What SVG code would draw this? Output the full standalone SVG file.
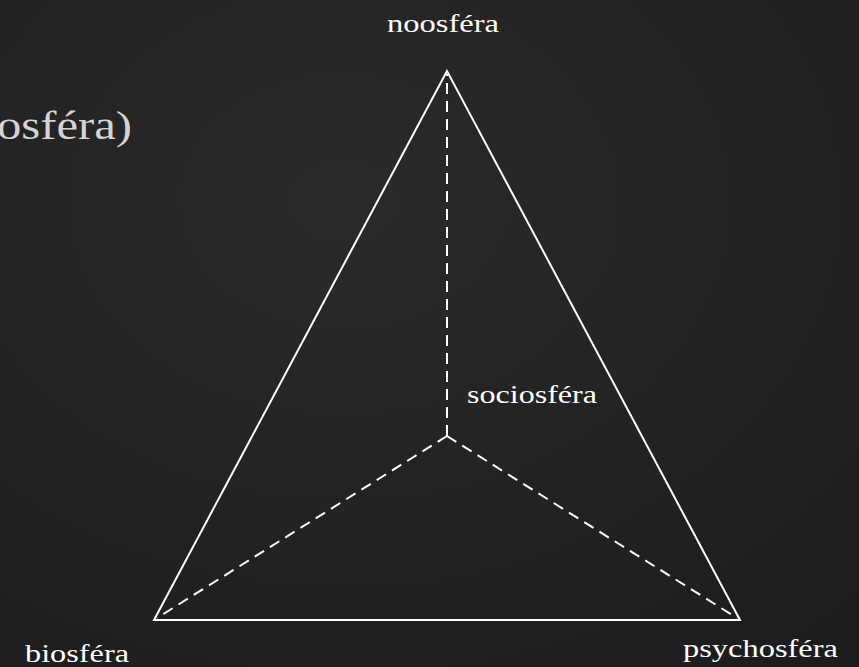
<svg xmlns="http://www.w3.org/2000/svg" width="859" height="667" viewBox="0 0 859 667">
<defs>
<radialGradient id="bg" cx="0.4" cy="0.3" r="0.9">
<stop offset="0" stop-color="#2a2a2a"/>
<stop offset="1" stop-color="#1c1c1c"/>
</radialGradient>
<style>
.lbl{font-family:"Liberation Serif","DejaVu Serif",serif;font-size:26px;fill:#ffffff}
.solid{fill:none;stroke:#ffffff;stroke-width:2}
.dash{fill:none;stroke:#ffffff;stroke-width:2;stroke-dasharray:11 7}
</style>
</defs>
<rect width="859" height="667" fill="url(#bg)"/>
<text x="-3" y="139" textLength="135" lengthAdjust="spacingAndGlyphs" style="font-family:'Liberation Serif','DejaVu Serif',serif;font-size:40px;fill:#d4d4d4">osféra)</text>
<g id="connectors">
<polygon class="solid" points="447,71 154,620 740,620"/>
<line class="dash" x1="447" y1="436" x2="447" y2="74"/>
<line class="dash" x1="447" y1="436" x2="157" y2="618"/>
<line class="dash" x1="447" y1="436" x2="737" y2="618"/>
</g>
<g id="noosfera"><text class="lbl" x="387" y="32" textLength="112" lengthAdjust="spacingAndGlyphs">noosféra</text></g>
<g id="sociosfera"><text class="lbl" x="467" y="403" textLength="130" lengthAdjust="spacingAndGlyphs">sociosféra</text></g>
<g id="biosfera"><text class="lbl" x="25" y="662" textLength="104" lengthAdjust="spacingAndGlyphs">biosféra</text></g>
<g id="psychosfera"><text class="lbl" x="683" y="657" textLength="155" lengthAdjust="spacingAndGlyphs">psychosféra</text></g>
</svg>
